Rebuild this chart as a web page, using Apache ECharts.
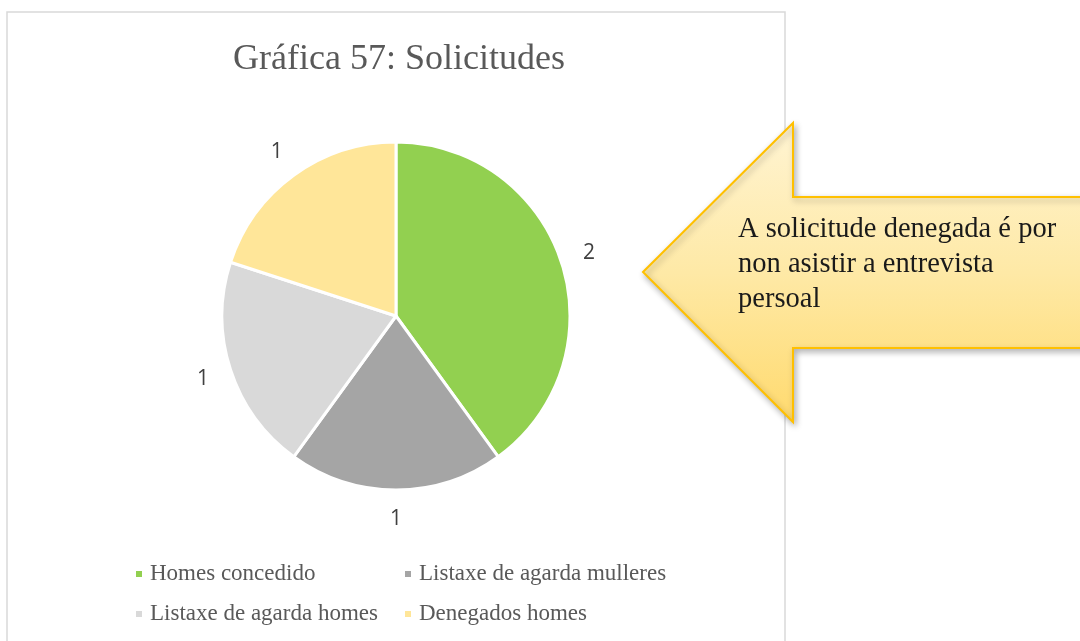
<!DOCTYPE html>
<html>
<head>
<meta charset="utf-8">
<title>Gráfica 57: Solicitudes</title>
<script src="https://cdn.jsdelivr.net/npm/echarts@6/dist/echarts.min.js"></script>
<style>
  html, body { margin: 0; padding: 0; background: #ffffff; }
  #chart { width: 1080px; height: 641px; }
</style>
</head>
<body>
<div id="chart"></div>
<script>
// Request outcomes and how many requests fell in each
const titleText = 'Gráfica 57: Solicitudes';
const categories = ['Homes concedido', 'Listaxe de agarda mulleres', 'Listaxe de agarda homes', 'Denegados homes'];
const counts = [2, 1, 1, 1];
const sliceColors = ['#92D050', '#A5A5A5', '#D9D9D9', '#FFE699'];
const noteLines = ['A solicitude denegada é por', 'non asistir a entrevista', 'persoal'];

const serif = '"Liberation Serif", "DejaVu Serif", serif';
const sans = '"Open Sans", "Noto Sans", "Liberation Sans", sans-serif';

const pieData = categories.map((name, i) => ({
  name: name,
  value: counts[i],
  itemStyle: { color: sliceColors[i] }
}));

const chart = echarts.init(document.getElementById('chart'), null, { renderer: 'canvas' });

chart.setOption({
  backgroundColor: '#ffffff',
  animation: false,
  title: {
    text: titleText,
    left: 394,
    top: 37,
    textAlign: 'center',
    textStyle: {
      fontFamily: serif,
      fontSize: 36,
      fontWeight: 'normal',
      color: '#595959'
    }
  },
  legend: {
    data: categories,
    left: 129,
    top: 549,
    width: 560,
    orient: 'horizontal',
    icon: 'rect',
    itemWidth: 8,
    itemHeight: 8,
    itemGap: 0,
    selectedMode: false,
    textStyle: {
      fontFamily: serif,
      fontSize: 23,
      color: '#595959',
      width: 253,
      lineHeight: 40,
      padding: [0, 0, 0, 2]
    }
  },
  series: [
    {
      name: 'Solicitudes',
      type: 'pie',
      center: [396, 316],
      radius: [0, 174],
      startAngle: 90,
      clockwise: true,
      silent: true,
      data: pieData,
      itemStyle: { borderColor: '#ffffff', borderWidth: 3 },
      label: { show: false },
      labelLine: { show: false }
    },
    {
      // transparent ring that carries the value labels just outside the pie
      name: 'Etiquetas',
      type: 'pie',
      center: [396, 316],
      radius: [174, 226],
      startAngle: 90,
      clockwise: true,
      silent: true,
      data: pieData.map(d => ({ name: d.name, value: d.value })),
      itemStyle: { color: 'rgba(0,0,0,0)', borderWidth: 0 },
      label: {
        show: true,
        position: 'inside',
        formatter: '{c}',
        fontFamily: sans,
        fontSize: 21,
        color: '#404040'
      },
      labelLine: { show: false },
      emphasis: { disabled: true }
    }
  ],
  graphic: [
    {
      // chart frame
      type: 'rect',
      z: 0,
      shape: { x: 7, y: 12, width: 778, height: 660 },
      style: { fill: 'none', stroke: '#D9D9D9', lineWidth: 1.5 }
    },
    {
      // left-pointing callout arrow
      type: 'polygon',
      z: 100,
      shape: {
        points: [
          [643, 272], [793, 123], [793, 197], [1090, 197],
          [1090, 348], [793, 348], [793, 422]
        ]
      },
      style: {
        fill: new echarts.graphic.LinearGradient(0, 0, 0, 1, [
          { offset: 0, color: '#FFF4D3' },
          { offset: 0.5, color: '#FEE9A6' },
          { offset: 1, color: '#FFDA6E' }
        ]),
        stroke: '#FFC000',
        lineWidth: 2,
        lineJoin: 'miter',
        shadowBlur: 6,
        shadowOffsetX: 2,
        shadowOffsetY: 3,
        shadowColor: 'rgba(0,0,0,0.28)'
      }
    },
    {
      type: 'text',
      z: 101,
      left: 738,
      top: 212,
      style: {
        text: noteLines.join('\n'),
        fontFamily: serif,
        fontSize: 28.5,
        lineHeight: 35,
        fill: '#1a1a1a'
      }
    }
  ]
});
</script>
</body>
</html>
